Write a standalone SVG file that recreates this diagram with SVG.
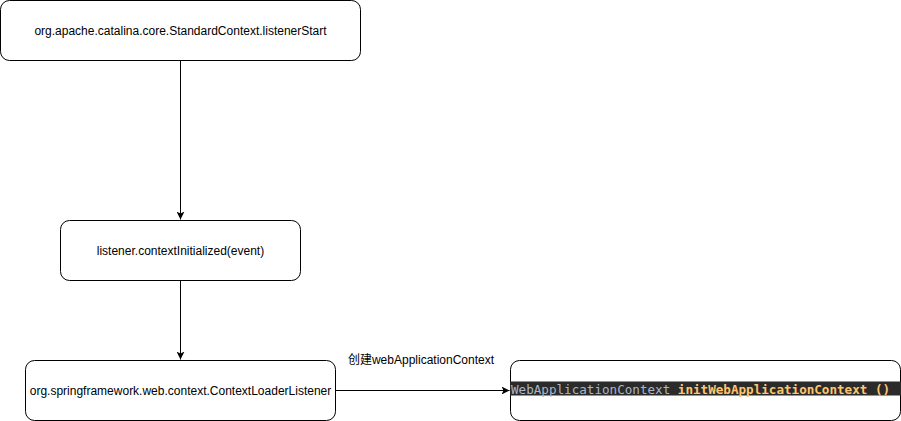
<svg xmlns="http://www.w3.org/2000/svg" width="901" height="421" viewBox="0 0 901 421">
<style>
.node{fill:#fff;stroke:#000;stroke-width:1}
.t{font-family:"Liberation Sans",Arial,"Noto Sans CJK SC",sans-serif;font-size:12px;fill:#000;text-anchor:middle;dominant-baseline:central}
.edge{stroke:#000;stroke-width:1;fill:none}
.code{font-family:"DejaVu Sans Mono","Liberation Mono",monospace;font-size:12.6px;dominant-baseline:central}
</style>
<defs>
<marker id="arr" viewBox="0 0 10 10" refX="10" refY="5" markerWidth="8" markerHeight="8" markerUnits="userSpaceOnUse" orient="auto">
<path d="M0,0 L10,5 L0,10 L2.5,5 Z" fill="#000"/>
</marker>
</defs>
<rect width="901" height="421" fill="#fff"/>
<g id="connectors">
<path class="edge" d="M180.5,60.5 V219.5" marker-end="url(#arr)"/>
<path class="edge" d="M180.5,280.5 V359.5" marker-end="url(#arr)"/>
<path class="edge" d="M335.5,390.5 H509.5" marker-end="url(#arr)"/>
<text class="t" x="421" y="360">创建webApplicationContext</text>
</g>
<g id="n1">
<rect class="node" x="0.5" y="0.5" width="360" height="60" rx="9"/>
<text class="t" x="180.5" y="30.5">org.apache.catalina.core.StandardContext.listenerStart</text>
</g>
<g id="n2">
<rect class="node" x="60.5" y="220.5" width="240" height="60" rx="9"/>
<text class="t" x="180.5" y="250.5">listener.contextInitialized(event)</text>
</g>
<g id="n3">
<rect class="node" x="25.5" y="360.5" width="310" height="60" rx="9"/>
<text class="t" x="180.5" y="390.5">org.springframework.web.context.ContextLoaderListener</text>
</g>
<g id="n4">
<rect class="node" x="510.5" y="360.5" width="390" height="60" rx="9"/>
<rect x="510" y="381.5" width="391" height="14" fill="#2b2b2b"/>
<text class="code" x="511" y="389"><tspan fill="#a9b7c6">WebApplicationContext </tspan><tspan fill="#ffc66d" font-weight="bold">initWebApplicationContext ()</tspan></text>
</g>
</svg>
